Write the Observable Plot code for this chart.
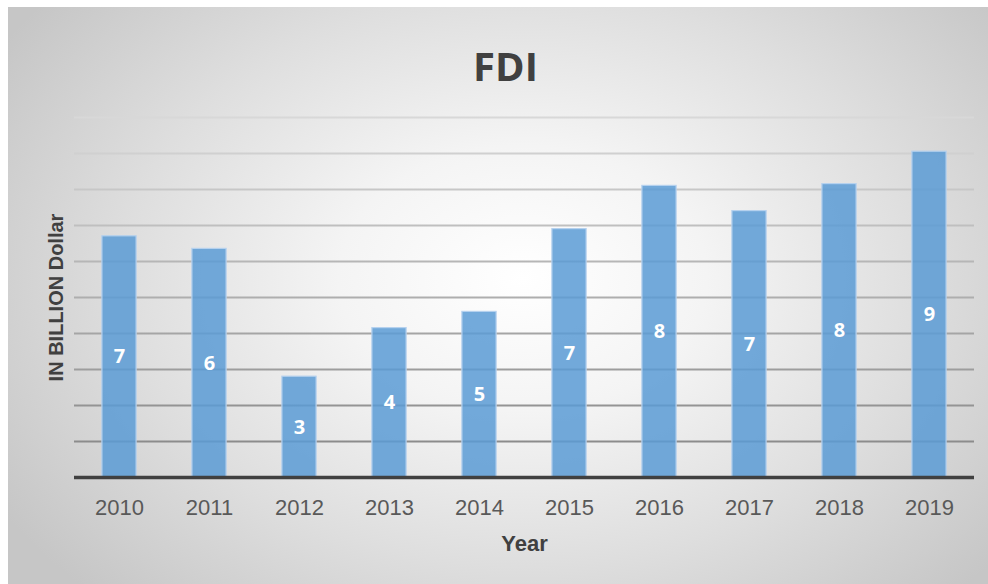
<!DOCTYPE html>
<html>
<head>
<meta charset="utf-8">
<script src="https://cdn.jsdelivr.net/npm/d3@7"></script>
<script src="https://cdn.jsdelivr.net/npm/@observablehq/plot@0.6"></script>
<style>
  html, body { margin: 0; padding: 0; background: #fff; }
  #wrap { position: relative; width: 988px; height: 584px; overflow: hidden; }
  #bg { position: absolute; left: 8px; top: 7px; width: 990px; height: 590px;
        background: radial-gradient(ellipse 62% 75% at 52% 46%, #ffffff 0%, #f4f4f4 30%, #dedede 65%, #c6c6c6 100%); }
  #title { position: absolute; left: 0; top: 38px; width: 1011px; text-align: center; line-height: 40px;
           font: bold 40px "Liberation Sans Narrow", "Open Sans", sans-serif; color: #404040; }
  #chart { position: absolute; left: 0; top: 0; }
</style>
</head>
<body>
<div id="wrap">
  <div id="bg"></div>
  <div id="title">FDI</div>
  <div id="chart"></div>
</div>
<script>
const years = ["2010","2011","2012","2013","2014","2015","2016","2017","2018","2019"];
const fdi = [6.7, 6.35, 2.8, 4.15, 4.6, 6.9, 8.1, 7.4, 8.15, 9.05];
const gridValues = [1,2,3,4,5,6,7,8,9,10];
const xTitle = "Year";
const yTitle = "IN BILLION Dollar";

const data = years.map((y, i) => ({year: y, value: fdi[i]}));
const gridShade = d3.scaleLinear().domain([1, 10]).range(["#8c8c8c", "#d8d8d8"]);

const plot = Plot.plot({
  width: 988,
  height: 584,
  marginLeft: 74,
  marginRight: 14,
  marginTop: 117,
  marginBottom: 107,
  style: { background: "transparent", fontFamily: "'Liberation Sans Narrow', sans-serif" },
  x: { domain: years, paddingInner: 0.62, paddingOuter: 0.31, round: false, label: null },
  y: { domain: [0, 10], label: null },
  marks: [
    Plot.ruleY(gridValues, { stroke: d => gridShade(d), strokeWidth: 2 }),
    Plot.barY(data, { x: "year", y: "value", fill: "#5b9bd5", fillOpacity: 0.85, stroke: "#b5d1ee", strokeWidth: 1.2 }),
    Plot.text(data, { x: "year", y: d => d.value / 2, text: d => String(Math.round(d.value)),
      fill: "#ffffff", fontSize: 20, fontWeight: "bold", fontFamily: "Open Sans, sans-serif" }),
    Plot.ruleY([0], { stroke: "#404040", strokeWidth: 3.5 }),
    Plot.axisX({ tickSize: 0, tickPadding: 22, fontSize: 22, fill: "#595959", label: null }),
    Plot.axisY({ ticks: [], label: null }),
    Plot.text([xTitle], { frameAnchor: "bottom", dy: 66, lineAnchor: "middle", textAnchor: "middle", text: d => d,
      fontSize: 22, fontWeight: "bold", fill: "#404040", fontFamily: "'Liberation Sans Narrow', sans-serif" }),
    Plot.text([yTitle], { frameAnchor: "left", dx: -18, rotate: -90, lineAnchor: "middle", textAnchor: "middle", text: d => d,
      fontSize: 20, fontWeight: "bold", fill: "#404040", fontFamily: "'Liberation Sans', Arial, sans-serif" })
  ]
});

document.getElementById("chart").appendChild(plot);
</script>
</body>
</html>
